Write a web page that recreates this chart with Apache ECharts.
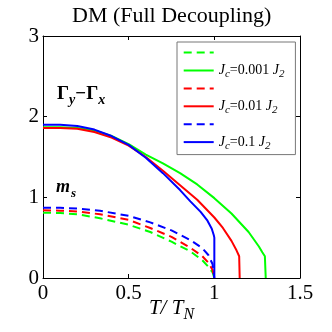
<!DOCTYPE html>
<html>
<head>
<meta charset="utf-8">
<script src="https://cdn.jsdelivr.net/npm/echarts@6/dist/echarts.min.js"></script>
<style>
    html, body { margin: 0; padding: 0; background: #fff; }
    #chart { width: 332px; height: 332px; }
</style>
</head>
<body>
<div id="chart"></div>
<script>
// x ticks / y ticks
const xTicks = [0, 0.5, 1, 1.5];
const yTicks = [0, 1, 2, 3];

// Γy − Γx, solid curves
const tGapLow = [0, 0.1, 0.2, 0.3, 0.4, 0.5, 0.6, 0.7, 0.8, 0.9, 1.0, 1.1, 1.2, 1.23, 1.26, 1.28, 1.295, 1.3, 1.3];
const gapLow = [1.87, 1.87, 1.86, 1.83, 1.76, 1.66, 1.53, 1.42, 1.30, 1.16, 0.99, 0.80, 0.57, 0.48, 0.39, 0.32, 0.27, 0.25, 0];
const tGapMid = [0, 0.1, 0.2, 0.3, 0.4, 0.5, 0.6, 0.7, 0.8, 0.9, 1.0, 1.05, 1.1, 1.13, 1.145, 1.148, 1.148];
const gapMid = [1.86, 1.86, 1.85, 1.81, 1.74, 1.64, 1.50, 1.33, 1.15, 0.97, 0.75, 0.62, 0.46, 0.34, 0.27, 0.25, 0];
const tGapHigh = [0, 0.1, 0.2, 0.3, 0.4, 0.5, 0.6, 0.7, 0.8, 0.86, 0.92, 0.96, 0.985, 0.997, 1.0, 1.0];
const gapHigh = [1.90, 1.90, 1.885, 1.84, 1.76, 1.65, 1.49, 1.30, 1.09, 0.95, 0.82, 0.71, 0.61, 0.53, 0.50, 0];

// m_s, dashed curves
const tMs = [0, 0.1, 0.2, 0.333, 0.5, 0.626, 0.75, 0.86, 0.93, 0.965, 0.99, 1.0];
const msLow = [0.81, 0.805, 0.79, 0.74, 0.66, 0.57, 0.45, 0.33, 0.22, 0.14, 0.07, 0];
const msMid = [0.84, 0.835, 0.825, 0.79, 0.72, 0.62, 0.51, 0.375, 0.27, 0.19, 0.1, 0];
const msHigh = [0.87, 0.87, 0.86, 0.834, 0.77, 0.69, 0.59, 0.47, 0.37, 0.285, 0.17, 0];

const legendNames = ['msLow', 'gapLow', 'msMid', 'gapMid', 'msHigh', 'gapHigh'];
const legendLabels = {
    msLow: '',
    gapLow: '{i|J}{s|c}{n|=0.001 }{i|J}{s|2}',
    msMid: '',
    gapMid: '{i|J}{s|c}{n|=0.01 }{i|J}{s|2}',
    msHigh: '',
    gapHigh: '{i|J}{s|c}{n|=0.1 }{i|J}{s|2}'
};

const serif = 'Liberation Serif';

let zip = (xs, ys) => xs.map((x, i) => [x, ys[i]]);

let mkLine = (name, xs, ys, color, dashed) => ({
    name: name,
    type: 'line',
    data: zip(xs, ys),
    symbol: 'none',
    silent: true,
    animation: false,
    lineStyle: {
        color: color,
        width: 2,
        type: dashed ? [8, 5] : 'solid'
    },
    itemStyle: { color: color }
});

let myChart = echarts.init(document.getElementById('chart'));

let option = {
    backgroundColor: '#fff',
    animation: false,
    title: {
        text: 'DM (Full Decoupling)',
        left: 67,
        top: 0,
        textStyle: { fontFamily: serif, fontSize: 22, fontWeight: 'normal', color: '#000' }
    },
    grid: { left: 43, right: 32, top: 36, bottom: 54, outerBoundsMode: 'none' },
    legend: {
        data: legendNames,
        orient: 'vertical',
        left: 177,
        top: 42,
        padding: [3, 11, 3, 5.7],
        itemWidth: 30,
        itemHeight: 19,
        itemGap: 0.8,
        borderColor: '#777',
        borderWidth: 1,
        backgroundColor: '#fff',
        selectedMode: false,
        itemStyle: { opacity: 0 },
        formatter: (name) => legendLabels[name],
        textStyle: {
            color: '#000',
            fontFamily: serif,
            fontSize: 14,
            lineHeight: 14,
            rich: {
                i: { fontFamily: serif, fontStyle: 'italic', fontSize: 14, lineHeight: 14 },
                n: { fontFamily: serif, fontSize: 14, lineHeight: 14 },
                s: { fontFamily: serif, fontStyle: 'italic', fontSize: 11, lineHeight: 11, padding: [8, 0, 0, 0] }
            }
        }
    },
    xAxis: [{
        type: 'value',
        min: 0,
        max: 1.5,
        interval: 0.5,
        name: '{i|T/ T}{s|N}',
        nameLocation: 'middle',
        nameGap: 15,
        nameMoveOverlap: false,
        nameTextStyle: {
            rich: {
                i: { fontFamily: serif, fontStyle: 'italic', fontSize: 21, lineHeight: 22 },
                s: { fontFamily: serif, fontStyle: 'italic', fontSize: 16, padding: [14, 0, 0, 0] }
            }
        },
        axisLine: { show: true, onZero: false, lineStyle: { color: '#000', width: 1 } },
        axisTick: { inside: true, length: 4, lineStyle: { color: '#000' } },
        axisLabel: {
            margin: 5,
            fontFamily: serif,
            fontSize: 21,
            color: '#000',
            formatter: (v) => xTicks.includes(v) ? String(v) : ''
        },
        splitLine: { show: false }
    }, {
        type: 'value',
        position: 'top',
        min: 0,
        max: 1.5,
        interval: 0.5,
        axisLine: { show: true, onZero: false, lineStyle: { color: '#000', width: 1 } },
        axisTick: { inside: true, length: 4, lineStyle: { color: '#000' } },
        axisLabel: { show: false },
        splitLine: { show: false }
    }],
    yAxis: [{
        type: 'value',
        min: 0,
        max: 3,
        interval: 1,
        axisLine: { show: true, onZero: false, lineStyle: { color: '#000', width: 1 } },
        axisTick: { show: true, inside: true, length: 4, lineStyle: { color: '#000' } },
        axisLabel: {
            margin: 4,
            fontFamily: serif,
            fontSize: 21,
            color: '#000',
            formatter: (v) => yTicks.includes(v) ? String(v) : ''
        },
        splitLine: { show: false }
    }, {
        type: 'value',
        position: 'right',
        min: 0,
        max: 3,
        interval: 1,
        axisLine: { show: true, onZero: false, lineStyle: { color: '#000', width: 1 } },
        axisTick: { show: true, inside: true, length: 4, lineStyle: { color: '#000' } },
        axisLabel: { show: false },
        splitLine: { show: false }
    }],
    graphic: [{
        type: 'text',
        left: 57,
        top: 85,
        style: {
            text: '{g|Γ}{s|y}{g|−Γ}{s|x}',
            rich: {
                g: { fontFamily: serif, fontWeight: 'bold', fontSize: 19, fill: '#000' },
                s: { fontFamily: serif, fontWeight: 'bold', fontStyle: 'italic', fontSize: 14, fill: '#000', padding: [11, 0, 0, 0] }
            }
        }
    }, {
        type: 'text',
        left: 56,
        top: 178,
        style: {
            text: '{m|m}{s|s}',
            rich: {
                m: { fontFamily: serif, fontWeight: 'bold', fontStyle: 'italic', fontSize: 18, fill: '#000' },
                s: { fontFamily: serif, fontWeight: 'bold', fontStyle: 'italic', fontSize: 13, fill: '#000', padding: [13, 0, 0, 1] }
            }
        }
    }],
    series: [
        mkLine('msLow', tMs, msLow, '#00ff00', true),
        mkLine('gapLow', tGapLow, gapLow, '#00ff00', false),
        mkLine('msMid', tMs, msMid, '#ff0000', true),
        mkLine('gapMid', tGapMid, gapMid, '#ff0000', false),
        mkLine('msHigh', tMs, msHigh, '#0000ff', true),
        mkLine('gapHigh', tGapHigh, gapHigh, '#0000ff', false)
    ]
};

myChart.setOption(option);
</script>
</body>
</html>
